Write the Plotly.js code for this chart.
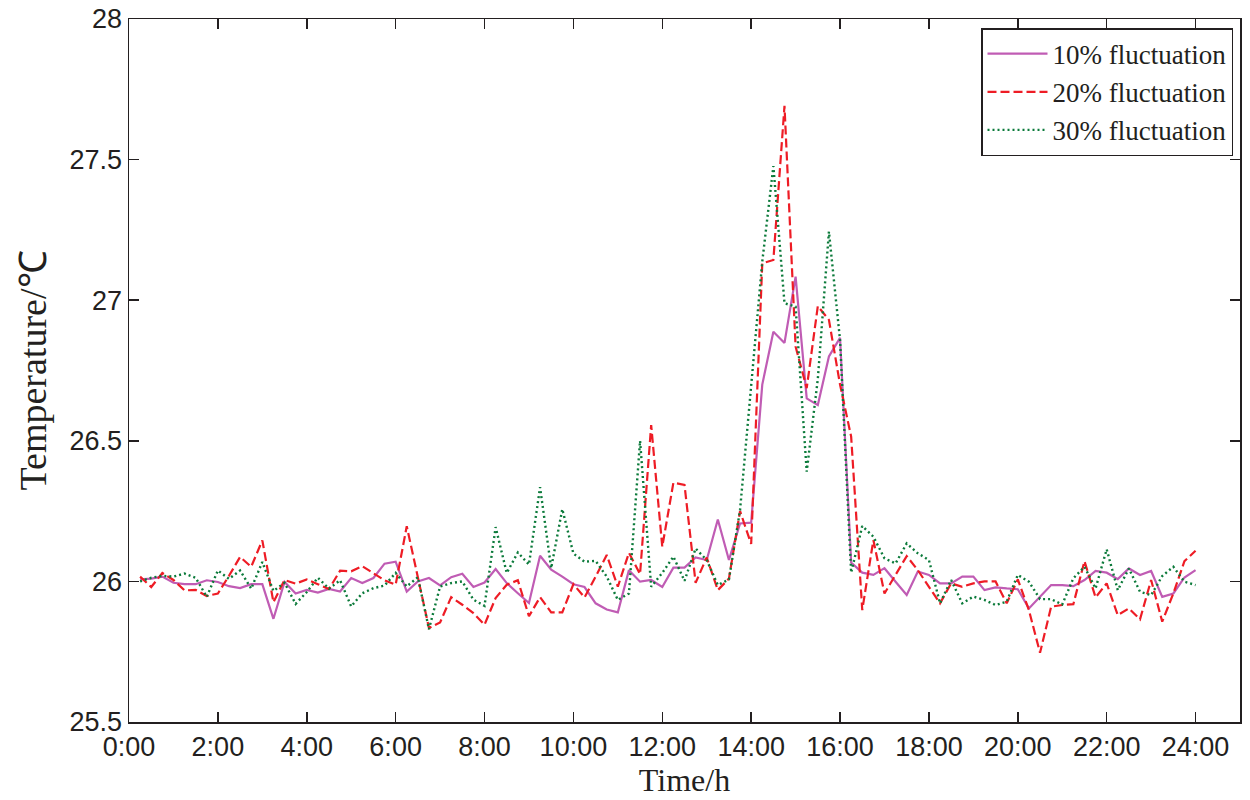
<!DOCTYPE html>
<html>
<head>
<meta charset="utf-8">
<script src="https://cdn.plot.ly/plotly-3.0.1.min.js"></script>
<style>
  body { margin: 0; background: #fff; }
  #plotdiv { width: 1250px; height: 800px; }
</style>
</head>
<body>
<div id="plotdiv"></div>
<script>
// sample times in hours (every 15 min, 0:15 .. 24:00)
var hours = [0.25,0.5,0.75,1,1.25,1.5,1.75,2,2.25,2.5,2.75,3,3.25,3.5,3.75,4,
  4.25,4.5,4.75,5,5.25,5.5,5.75,6,6.25,6.5,6.75,7,7.25,7.5,7.75,8,
  8.25,8.5,8.75,9,9.25,9.5,9.75,10,10.25,10.5,10.75,11,11.25,11.5,11.75,12,
  12.25,12.5,12.75,13,13.25,13.5,13.75,14,14.25,14.5,14.75,15,15.25,15.5,15.75,16,
  16.25,16.5,16.75,17,17.25,17.5,17.75,18,18.25,18.5,18.75,19,19.25,19.5,19.75,20,
  20.25,20.5,20.75,21,21.25,21.5,21.75,22,22.25,22.5,22.75,23,23.25,23.5,23.75,24];

var fluct10 = [26.007,26.01,26.017,25.995,25.99,25.99,26.004,25.998,25.983,25.976,25.99,25.99,25.867,25.998,25.957,25.97,
  25.96,25.973,25.964,26.012,25.994,26.012,26.063,26.07,25.964,26.0,26.012,25.986,26.015,26.027,25.98,25.996,
  26.044,25.994,25.958,25.923,26.091,26.042,26.017,25.99,25.98,25.922,25.9,25.89,26.04,25.999,26.005,25.98,
  26.049,26.049,26.085,26.076,26.22,26.076,26.206,26.209,26.7,26.888,26.848,27.084,26.651,26.627,26.8,26.866,
  26.067,26.031,26.023,26.047,25.999,25.952,26.035,26.023,25.993,25.993,26.017,26.017,25.969,25.979,25.975,25.972,
  25.904,25.945,25.987,25.987,25.983,26.005,26.037,26.031,26.008,26.046,26.023,26.037,25.945,25.957,26.014,26.04];

var fluct20 = [26.017,25.98,26.03,26.005,25.968,25.97,25.948,25.957,26.02,26.087,26.052,26.146,25.926,26.005,25.992,26.007,
  25.99,25.973,26.038,26.036,26.054,26.03,26.004,25.988,26.196,26.015,25.834,25.854,25.944,25.917,25.887,25.846,
  25.941,25.988,26.004,25.876,25.944,25.89,25.89,25.99,25.943,26.017,26.094,25.981,26.102,26.026,26.556,26.123,
  26.351,26.343,25.995,26.085,25.969,26.01,26.25,26.133,27.131,27.143,27.691,26.835,26.687,26.979,26.93,26.7,
  26.515,25.898,26.147,25.957,26.023,26.09,26.04,25.981,25.922,25.993,25.981,25.993,26.0,26.0,25.922,26.007,
  25.898,25.746,25.91,25.916,25.919,26.072,25.943,25.993,25.88,25.904,25.865,26.005,25.857,25.957,26.072,26.109];

var fluct30 = [26.0,26.013,26.02,26.017,26.028,26.013,25.945,26.039,26.009,26.039,25.974,26.069,25.966,25.995,25.92,25.962,
  26.013,25.974,26.004,25.911,25.958,25.976,25.985,26.03,25.982,26.015,25.83,25.982,25.994,26.0,25.935,25.913,
  26.193,26.03,26.103,26.06,26.335,26.047,26.257,26.099,26.07,26.073,26.017,25.934,25.957,26.5,25.981,26.03,
  26.088,26.002,26.117,26.076,25.987,26.007,26.254,26.7,27.137,27.477,26.989,26.977,26.39,26.72,27.244,26.858,
  26.031,26.197,26.159,26.082,26.064,26.135,26.1,26.076,25.922,26.005,25.922,25.946,25.934,25.916,25.928,26.023,
  25.999,25.937,25.937,25.918,26.011,26.052,25.975,26.114,25.969,26.046,25.963,25.951,26.019,26.052,25.999,25.987];

var tickHours = [0,2,4,6,8,10,12,14,16,18,20,22,24];
var tickLabels = ['0:00','2:00','4:00','6:00','8:00','10:00','12:00','14:00','16:00','18:00','20:00','22:00','24:00'];
var seriesNames = ['10% fluctuation','20% fluctuation','30% fluctuation'];

var traces = [
  {x: hours, y: fluct10, mode: 'lines', type: 'scatter', name: seriesNames[0],
   line: {color: '#c05cb4', width: 2.2}},
  {x: hours, y: fluct20, mode: 'lines', type: 'scatter', name: seriesNames[1],
   line: {color: '#ee1c25', width: 2.2, dash: '9px,4px'}},
  {x: hours, y: fluct30, mode: 'lines', type: 'scatter', name: seriesNames[2],
   line: {color: '#0b7a3a', width: 2.4, dash: '2px,3px'}}
];

var tickFont = {family: 'Liberation Sans, Arial, sans-serif', size: 27, color: '#231f20'};
var serif = 'Liberation Serif, Times New Roman, serif';

var layout = {
  width: 1250,
  height: 800,
  margin: {l: 129, r: 10, t: 19, b: 78},
  paper_bgcolor: '#fff',
  plot_bgcolor: '#fff',
  showlegend: true,
  xaxis: {
    range: [0, 25],
    tickmode: 'array',
    tickvals: tickHours,
    ticktext: tickLabels,
    ticks: 'inside',
    ticklen: 10,
    tickwidth: 1.5,
    tickcolor: '#231f20',
    showline: true,
    linecolor: '#231f20',
    linewidth: 1.5,
    mirror: 'ticks',
    showgrid: false,
    zeroline: false,
    tickfont: tickFont,
    ticklabelstandoff: 0,
    title: {text: 'Time/h', font: {family: serif, size: 32, color: '#231f20'}, standoff: 4}
  },
  yaxis: {
    range: [25.5, 28],
    dtick: 0.5,
    ticks: 'inside',
    ticklen: 10,
    tickwidth: 1.5,
    tickcolor: '#231f20',
    showline: true,
    linecolor: '#231f20',
    linewidth: 1.5,
    mirror: 'ticks',
    showgrid: false,
    zeroline: false,
    tickfont: tickFont,
    ticklabelstandoff: 0,
    title: {text: 'Temperature/℃', font: {family: serif, size: 38, color: '#231f20'}, standoff: 11}
  },
  legend: {
    x: 0.9937, xanchor: 'right',
    y: 0.987, yanchor: 'top',
    bgcolor: '#fff',
    bordercolor: '#231f20',
    borderwidth: 1.5,
    itemwidth: 60,
    tracegroupgap: 0,
    font: {family: serif, size: 27, color: '#231f20'}
  }
};

function plotChart(){
  Plotly.newPlot('plotdiv', traces, layout, {displayModeBar: false, staticPlot: true});
}

plotChart();
</script>
</body>
</html>
